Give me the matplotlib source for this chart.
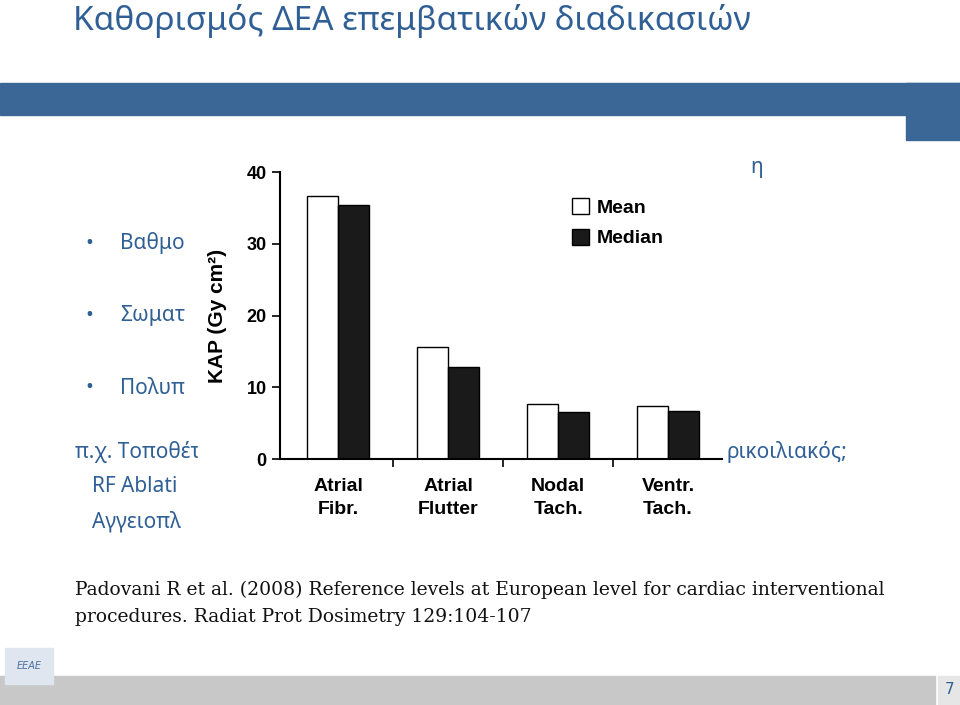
import matplotlib
matplotlib.use("Agg")
import matplotlib.pyplot as plt
from matplotlib.patches import Rectangle
import numpy as np

categories = ["Atrial\nFibr.", "Atrial\nFlutter", "Nodal\nTach.", "Ventr.\nTach."]
mean_vals = [36.7, 15.6, 7.7, 7.4]
median_vals = [35.4, 12.8, 6.5, 6.7]
yticks = [0, 10, 20, 30, 40]

W, H = 960, 705
fig = plt.figure(figsize=(9.6, 7.05), dpi=100)
bg = fig.add_axes([0, 0, 1, 1])
bg.set_xlim(0, W)
bg.set_ylim(H, 0)
bg.axis("off")

blue = "#2f5f94"
band = "#3b6796"

bg.text(73, 21, "Καθορισμός ΔΕΑ επεμβατικών διαδικασιών", color=blue,
        fontsize=24, family="Noto Sans", va="center", ha="left")
bg.add_patch(Rectangle((0, 83), W, 32, color=band, zorder=1))
bg.add_patch(Rectangle((906, 83), 54, 57, color=band, zorder=1))

# body text: only the parts not covered by the chart picture
body = dict(family="Noto Sans", fontsize=15, color=blue, va="center", ha="left")
bg.text(750, 167, "η", **body)
bg.text(85, 243, "•", **body)
bg.text(120, 243, "Βαθμο", **body)
bg.text(85, 316, "•", **body)
bg.text(120, 316, "Σωματ", **body)
bg.text(85, 388, "•", **body)
bg.text(120, 388, "Πολυπ", **body)
bg.text(75, 452, "π.χ. Τοποθέτη", **body)
bg.text(726, 452, "ρικοιλιακός;", **body)
bg.text(92, 487, "RF Ablati", **body)
bg.text(92, 522, "Αγγειοπλ", **body)
bg.add_patch(Rectangle((198, 148), 526, 388, color="white", zorder=3))

ser = dict(family="DejaVu Serif", fontsize=13.5, color="#111111", va="center", ha="left")
bg.text(75, 590, "Padovani R et al. (2008) Reference levels at European level for cardiac interventional", **ser)
bg.text(75, 617, "procedures. Radiat Prot Dosimetry 129:104-107", **ser)

bg.add_patch(Rectangle((0, 676), 935, 29, color="#c8c8c8", zorder=1))
bg.add_patch(Rectangle((938, 676), 22, 29, color="#e6e6e6", zorder=1))
bg.text(950, 690, "7", color=blue, fontsize=11, ha="center", va="center")
bg.add_patch(Rectangle((5, 648), 48, 36, color="#dfe6f0", zorder=1))
bg.text(29, 666, "ΕΕΑΕ", color="#4a6fa0", fontsize=7, ha="center", va="center", style="italic")

ax = fig.add_axes([280 / W, 1 - 459 / H, 442 / W, 287 / H], zorder=5)
ax.patch.set_alpha(0)
x = np.arange(len(categories))
bw = 0.28
ax.bar(x - bw / 2, mean_vals, bw, facecolor="white", edgecolor="black", lw=1, label="Mean")
ax.bar(x + bw / 2, median_vals, bw, facecolor="#1a1a1a", edgecolor="black", lw=1, label="Median")
ax.set_xlim(-0.53, 3.49)
ax.set_ylim(0, 40)
ax.set_yticks(yticks)
ax.set_xticks([0.5, 1.5, 2.5])
ax.set_xticklabels([])
ax.tick_params(axis="x", length=6, width=1.2)
ax.tick_params(axis="y", length=6, width=1.2)
for lab in ax.get_yticklabels():
    lab.set_fontweight("bold")
    lab.set_fontsize(13)
    lab.set_family("Liberation Sans")
for i, c in enumerate(categories):
    ax.text(i, -2.6, c, ha="center", va="top", fontsize=14, fontweight="bold",
            family="Liberation Sans", linespacing=1.5)
for s in ["top", "right"]:
    ax.spines[s].set_visible(False)
for s in ["left", "bottom"]:
    ax.spines[s].set_linewidth(1.5)
ax.set_ylabel("KAP (Gy cm²)", fontsize=15, fontweight="bold", family="Liberation Sans", labelpad=14)
leg = ax.legend(loc="upper left", bbox_to_anchor=(0.62, 0.97), frameon=False,
                prop=dict(family="Liberation Sans", weight="bold", size=14),
                handlelength=0.9, handleheight=0.9, labelspacing=0.6, handletextpad=0.4)

fig.savefig("out.png", dpi=100)
